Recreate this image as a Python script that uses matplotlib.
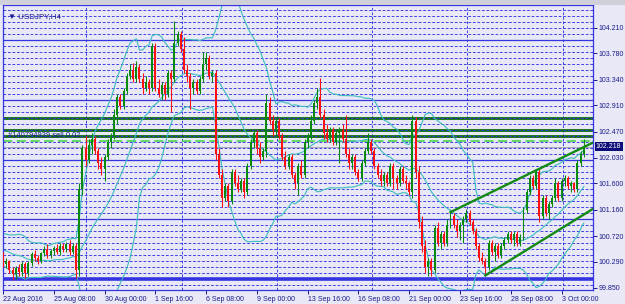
import numpy as np
import pandas as pd
import matplotlib
matplotlib.use("Agg")
import matplotlib.pyplot as plt
import matplotlib.transforms as mtransforms
from matplotlib.patches import Rectangle

# USDJPY H4, bar 0 = 22 Aug 2016 16:00
opens = [100.40, 100.25, 100.30, 100.15, 100.08, 100.18, 100.12, 100.25, 100.10, 100.27,
         100.42, 100.35, 100.30, 100.43, 100.50, 100.40, 100.47, 100.52, 100.45, 100.55,
         100.50, 100.58, 100.45, 100.55, 100.15, 101.50, 102.20, 102.00, 102.25, 102.35,
         102.15, 101.95, 101.85, 102.05, 102.30, 102.40, 102.75, 103.05, 102.90, 103.15,
         103.40, 103.50, 103.35, 103.55, 103.35, 103.20, 103.30, 103.20, 103.90, 103.20,
         103.10, 103.25, 103.10, 103.45, 103.35, 103.95, 104.10, 103.85, 103.50, 103.40,
         103.20, 103.30, 103.15, 103.35, 103.60, 103.70, 103.40, 103.45, 102.10, 101.75,
         101.35, 101.55, 101.30, 101.80, 101.60, 101.50, 101.65, 101.45, 101.90, 102.30,
         102.45, 102.20, 102.05, 102.15, 102.95, 102.65, 102.50, 102.65, 102.40, 102.05,
         101.90, 102.05, 101.75, 101.60, 101.90, 101.75, 102.30, 102.40, 102.65, 102.95,
         103.05, 102.75, 102.45, 102.35, 102.50, 102.30, 102.45, 102.50, 102.35, 102.10,
         101.95, 102.05, 101.80, 101.70, 101.95, 102.15, 102.30, 102.15, 101.90, 101.75,
         101.65, 101.75, 101.60, 101.90, 101.70, 101.60, 101.85, 101.65, 101.60, 101.45,
         102.65, 101.80, 100.95, 100.55, 100.20, 100.30, 100.15, 100.85, 100.60, 100.75,
         100.60, 100.90, 101.05, 100.90, 100.80, 100.90, 101.00, 101.10, 100.95, 100.80,
         100.55, 100.35, 100.30, 100.20, 100.60, 100.45, 100.55, 100.40, 100.55, 100.65,
         100.75, 100.65, 100.75, 100.60, 100.70, 101.15, 101.45, 101.70, 101.55, 101.80,
         101.05, 101.35, 101.10, 101.25, 101.35, 101.60, 101.35, 101.65, 101.70, 101.55,
         101.60, 101.50, 101.95, 102.10]
highs = [100.45, 100.35, 100.32, 100.20, 100.22, 100.25, 100.30, 100.28, 100.30, 100.45,
         100.48, 100.40, 100.45, 100.55, 100.58, 100.50, 100.56, 100.58, 100.60, 100.60,
         100.62, 100.65, 100.60, 100.60, 101.60, 102.25, 102.40, 102.35, 102.45, 102.40,
         102.20, 102.05, 102.10, 102.35, 102.45, 102.85, 103.10, 103.10, 103.20, 103.45,
         103.60, 103.62, 103.65, 103.60, 103.45, 103.40, 103.35, 103.95, 103.95, 103.35,
         103.30, 103.30, 103.50, 103.50, 104.33, 104.15, 104.15, 104.05, 103.60, 103.45,
         103.35, 103.35, 103.40, 103.80, 103.80, 103.75, 103.50, 103.50, 102.20, 101.85,
         101.60, 101.60, 101.85, 101.85, 101.75, 101.70, 101.70, 101.95, 102.35, 102.50,
         102.50, 102.30, 102.20, 103.10, 103.05, 102.75, 102.70, 102.70, 102.45, 102.15,
         102.10, 102.10, 101.80, 101.95, 102.00, 102.35, 102.45, 102.75, 103.00, 103.20,
         103.37, 102.85, 102.60, 102.55, 102.55, 102.50, 102.55, 102.60, 102.75, 102.20,
         102.10, 102.10, 101.85, 102.00, 102.20, 102.45, 102.35, 102.20, 101.95, 101.85,
         101.80, 101.80, 101.95, 101.95, 101.75, 101.90, 101.90, 101.75, 101.65, 102.75,
         102.72, 101.90, 101.05, 100.65, 100.35, 100.35, 100.90, 100.95, 100.80, 100.80,
         101.00, 101.15, 101.10, 101.00, 100.95, 101.05, 101.18, 101.15, 101.00, 100.85,
         100.60, 100.45, 100.35, 100.65, 100.65, 100.60, 100.60, 100.60, 100.70, 100.80,
         100.80, 100.80, 100.80, 100.75, 101.20, 101.50, 101.75, 101.75, 101.85, 101.85,
         101.40, 101.40, 101.30, 101.40, 101.70, 101.65, 101.70, 101.75, 101.72, 101.65,
         101.62, 102.00, 102.15, 102.35]
lows = [100.20, 100.18, 100.10, 99.98, 100.00, 100.05, 100.05, 100.02, 100.05, 100.22,
        100.30, 100.25, 100.27, 100.38, 100.35, 100.35, 100.40, 100.42, 100.40, 100.45,
        100.45, 100.40, 100.42, 100.02, 100.05, 101.40, 101.90, 101.95, 102.10, 102.10,
        101.85, 101.75, 101.65, 102.00, 102.20, 102.35, 102.60, 102.85, 102.85, 103.10,
        103.35, 103.30, 103.30, 103.30, 103.10, 103.15, 103.10, 103.15, 103.15, 103.05,
        103.00, 103.00, 103.05, 102.80, 103.30, 103.90, 103.80, 103.45, 103.30, 102.85,
        103.10, 103.10, 103.10, 103.30, 103.50, 103.35, 103.30, 102.00, 101.70, 101.20,
        101.30, 101.20, 101.25, 101.55, 101.45, 101.45, 101.35, 101.40, 101.85, 102.20,
        102.10, 101.95, 102.00, 102.05, 102.60, 102.40, 102.40, 102.35, 102.00, 101.85,
        101.85, 101.70, 101.50, 101.40, 101.70, 101.70, 102.20, 102.35, 102.60, 102.85,
        102.70, 102.35, 102.30, 102.30, 102.25, 102.25, 101.95, 102.30, 102.05, 101.85,
        101.85, 101.75, 101.65, 101.65, 101.90, 102.10, 102.10, 101.85, 101.70, 101.55,
        101.55, 101.55, 101.55, 101.50, 101.50, 101.55, 101.60, 101.50, 101.40, 101.35,
        101.70, 100.85, 100.45, 100.10, 100.05, 100.05, 100.10, 100.55, 100.50, 100.55,
        100.55, 100.85, 100.85, 100.70, 100.65, 100.60, 100.95, 100.90, 100.75, 100.50,
        100.30, 100.25, 100.06, 100.15, 100.40, 100.30, 100.35, 100.35, 100.50, 100.60,
        100.60, 100.55, 100.55, 100.55, 100.65, 101.10, 101.40, 101.50, 101.50, 100.95,
        101.00, 101.05, 101.00, 101.20, 101.30, 101.30, 101.30, 101.55, 101.50, 101.45,
        101.45, 101.45, 101.90, 102.05]
closes = [100.25, 100.30, 100.15, 100.08, 100.18, 100.12, 100.25, 100.10, 100.27, 100.42,
          100.35, 100.30, 100.43, 100.50, 100.40, 100.47, 100.52, 100.45, 100.55, 100.50,
          100.58, 100.45, 100.55, 100.15, 101.50, 102.20, 102.00, 102.25, 102.35, 102.15,
          101.95, 101.85, 102.05, 102.30, 102.40, 102.75, 103.05, 102.90, 103.15, 103.40,
          103.50, 103.35, 103.55, 103.35, 103.20, 103.30, 103.20, 103.90, 103.20, 103.10,
          103.25, 103.10, 103.45, 103.35, 103.95, 104.10, 103.85, 103.50, 103.40, 103.20,
          103.30, 103.15, 103.35, 103.60, 103.70, 103.40, 103.45, 102.10, 101.75, 101.35,
          101.55, 101.30, 101.80, 101.60, 101.50, 101.65, 101.45, 101.90, 102.30, 102.45,
          102.20, 102.05, 102.15, 102.95, 102.65, 102.50, 102.65, 102.40, 102.05, 101.90,
          102.05, 101.75, 101.60, 101.90, 101.75, 102.30, 102.40, 102.65, 102.95, 103.05,
          102.75, 102.45, 102.35, 102.50, 102.30, 102.45, 102.50, 102.35, 102.10, 101.95,
          102.05, 101.80, 101.70, 101.95, 102.15, 102.30, 102.15, 101.90, 101.75, 101.65,
          101.75, 101.60, 101.90, 101.70, 101.60, 101.85, 101.65, 101.60, 101.45, 102.65,
          101.80, 100.95, 100.55, 100.20, 100.30, 100.15, 100.85, 100.60, 100.75, 100.60,
          100.90, 101.05, 100.90, 100.80, 100.90, 101.00, 101.10, 100.95, 100.80, 100.55,
          100.35, 100.30, 100.20, 100.60, 100.45, 100.55, 100.40, 100.55, 100.65, 100.75,
          100.65, 100.75, 100.60, 100.70, 101.15, 101.45, 101.70, 101.55, 101.80, 101.05,
          101.35, 101.10, 101.25, 101.35, 101.60, 101.35, 101.65, 101.70, 101.55, 101.60,
          101.50, 101.95, 102.10, 102.218]
# closes before the visible window (for the Bollinger bands)
warmup_closes = [100.55, 100.70, 100.62, 100.48, 100.35, 100.50, 100.66, 100.72, 100.58, 100.45,
                 100.30, 100.42, 100.60, 100.55, 100.40, 100.28, 100.35, 100.50, 100.45]

price_ticks = [104.210, 103.780, 103.340, 102.910, 102.470, 102.030,
               101.600, 101.160, 100.720, 100.290, 99.850]
time_idx = [0, 16, 32, 48, 64, 80, 96, 112, 128, 144, 160, 176]
time_labels = ["22 Aug 2016", "25 Aug 08:00", "30 Aug 00:00", "1 Sep 16:00", "6 Sep 08:00",
               "9 Sep 00:00", "13 Sep 16:00", "16 Sep 08:00", "21 Sep 00:00", "23 Sep 16:00",
               "28 Sep 08:00", "3 Oct 00:00"]
week_starts = [26, 56, 86, 116, 146, 176]
round_levels = [100.0, 101.0, 102.0, 103.0, 104.0]
green_levels = [102.70, 102.50, 102.40]
order_price = 102.31
bid = 102.218
# trend channel anchor points (bar, price)
chan_upper = [(141, 101.12), (183, 102.21)]
chan_lower = [(152, 100.06), (183, 101.08)]

bg = "#e8e8f6"
navy = "#1a1a8a"
blue = "#3434e2"
plt.rcParams["font.family"] = ["Liberation Sans", "DejaVu Sans"]

fig = plt.figure(figsize=(6.25, 3.04), dpi=100)
fig.patch.set_facecolor(bg)
fig.patches.append(Rectangle((0, 299 / 304), 1, 5 / 304, transform=fig.transFigure,
                             facecolor="#cfd0da", edgecolor="none"))
ax = fig.add_axes([3 / 625, 14 / 304, 590 / 625, 285 / 304])
ax.set_facecolor(bg)
ax.set_xlim(0.0, 185.9)
ax.set_ylim(99.816, 104.59)

# dashed 0.10 levels and solid round levels
for k in range(999, 1046):
    if k % 10 == 0:
        continue
    ax.axhline(k / 10, color=blue, lw=0.65, ls=(0, (3, 2)), zorder=1)
for lvl in round_levels:
    ax.axhline(lvl, color=blue, lw=2.6 if lvl == 100.0 else 0.9, zorder=1)
for w in week_starts:
    ax.axvline(w + 0.3, color=blue, lw=0.65, ls=(0, (3, 2)), zorder=1)
for lvl in green_levels:
    ax.axhline(lvl, color="#0b6b0b", lw=2.0, zorder=1.5)
    ax.axhline(lvl, color=blue, lw=0.65, ls=(0, (3, 2)), zorder=1.6)
ax.axhline(order_price, color="#3cd23c", lw=1.1, ls=(0, (6, 3)), zorder=1.5)
ax.axhline(bid, color="#a0a0a8", lw=0.6, zorder=1.5)

# Bollinger bands 20, 2
s = pd.Series(warmup_closes + closes)
mid = s.rolling(20).mean().to_numpy()[-len(closes):]
sd = s.rolling(20).std(ddof=0).to_numpy()[-len(closes):]
x = np.arange(len(closes))
for band in (mid, mid + 2 * sd, mid - 2 * sd):
    ax.plot(x, band, color="#3cbcbc", lw=0.8, zorder=2)

# candles
o = np.array(opens); h = np.array(highs); l = np.array(lows); c = np.array(closes)
up = c >= o
cols = np.where(up, "#0a8a0a", "#ff1010")
ax.vlines(x, l, h, colors=cols, lw=0.75, zorder=3)
ax.bar(x, np.maximum(np.abs(c - o), 0.012), bottom=np.minimum(o, c), width=0.62,
       color=cols, linewidth=0, zorder=3)

# trend channel
for pts in (chan_upper, chan_lower):
    (x0, y0), (x1, y1) = pts
    slope = (y1 - y0) / (x1 - x0)
    xe = ax.get_xlim()[1]
    ax.plot([x0, xe], [y0, y0 + slope * (xe - x0)], color="#138a13", lw=1.7, zorder=4)

# axes styling
for sp in ax.spines.values():
    sp.set_color(blue)
    sp.set_linewidth(0.9)
ax.yaxis.tick_right()
ax.set_yticks(price_ticks)
ax.set_yticklabels([f"{p:.3f}" for p in price_ticks])
ax.set_xticks(time_idx)
ax.set_xticklabels(time_labels, ha="left")
ax.tick_params(axis="both", colors=navy, labelsize=5.0, length=3, width=0.7, direction="out")
ax.tick_params(axis="y", pad=1)
ax.tick_params(axis="x", pad=1.5)

tr = mtransforms.blended_transform_factory(ax.transAxes, ax.transData)
ax.text(1.005, bid, f"{bid:.3f}", transform=tr, color="white", fontsize=5.0,
        va="center", ha="left", zorder=6,
        bbox=dict(facecolor="#0c0c78", edgecolor="none", pad=1.0))
ax.text(0.008, 0.972, "\u25bc USDJPY,H4", transform=ax.transAxes, color=navy,
        fontsize=5.8, va="top", ha="left", zorder=6)
ax.text(0.008, order_price + 0.04, "#140794939 sell 0.02", color=navy, fontsize=5.4,
        transform=tr, va="bottom", ha="left", zorder=6)

fig.savefig("out.png", dpi=100, facecolor=fig.get_facecolor())
